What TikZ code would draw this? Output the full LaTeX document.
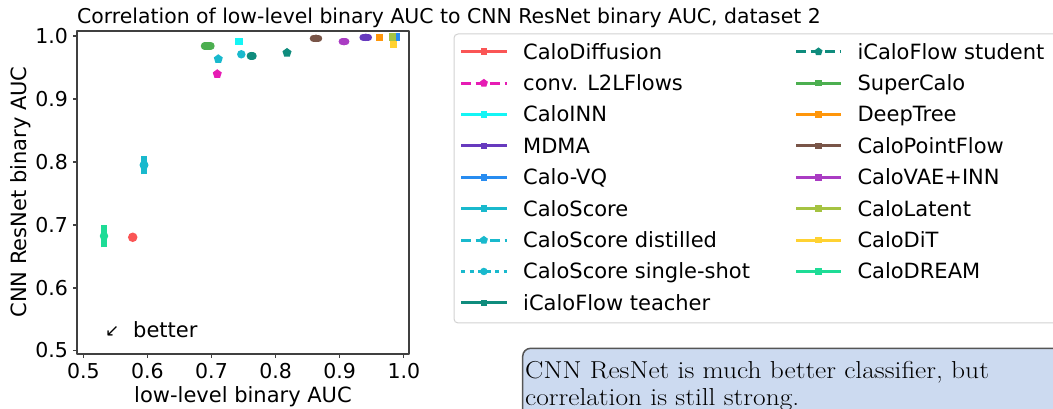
\documentclass[tikz,border=0pt]{standalone}
\usepackage{fontspec}
\newfontfamily\plotfont{DejaVu Sans}
\usetikzlibrary{shapes.geometric}

% Colours of the generators
\definecolor{cdiffusion}{RGB}{250,85,85}
\definecolor{cltwol}{RGB}{230,28,180}
\definecolor{cinn}{RGB}{20,245,245}
\definecolor{cmdma}{RGB}{103,58,190}
\definecolor{cvq}{RGB}{40,140,240}
\definecolor{cscore}{RGB}{25,185,205}
\definecolor{cicalo}{RGB}{15,140,125}
\definecolor{csuper}{RGB}{76,175,80}
\definecolor{cdeeptree}{RGB}{255,150,10}
\definecolor{cpointflow}{RGB}{121,85,72}
\definecolor{cvaeinn}{RGB}{170,60,195}
\definecolor{clatent}{RGB}{165,195,65}
\definecolor{cdit}{RGB}{255,210,50}
\definecolor{cdream}{RGB}{30,220,150}
\definecolor{notefill}{RGB}{204,218,240}
\definecolor{noteline}{RGB}{85,85,85}
\definecolor{legframe}{RGB}{210,210,210}

\begin{document}
\begin{tikzpicture}[x=1pt,y=1pt,line join=round,
    every node/.style={font=\plotfont\fontsize{21}{25}\selectfont, inner sep=0pt, text=black},
    ticklabel/.style={font=\plotfont\fontsize{20.5}{24}\selectfont},
    notetext/.style={anchor=base west, transform shape, font=\rmfamily\fontsize{24.5}{27}\selectfont},
    axisframe/.style={draw=black!75, line width=1.1pt},
    tickmark/.style={draw=black!75, line width=1.1pt},
    legline/.style={line width=3pt},
    legtext/.style={anchor=base west, xshift=15pt, yshift=-7.5pt},
    legsq/.style={rectangle, fill=#1, minimum size=6.5pt},
    legdot/.style={circle, fill=#1, minimum size=7.5pt},
    legpent/.style={regular polygon, regular polygon sides=5, fill=#1, minimum size=8.5pt},
    sqmark/.style={rectangle, fill=#1, minimum size=7.5pt},
    dotmark/.style={circle, fill=#1, minimum size=8.5pt},
    pentmark/.style={regular polygon, regular polygon sides=5, fill=#1, minimum size=9.5pt},
    errbar/.style={draw=#1, line width=5.5pt},
    pill/.style={draw=#1, line width=7.5pt, line cap=round},
    ]

    % Page size
    \useasboundingbox (0,0) rectangle (1053,409);
    \clip (0,0) rectangle (1053,409);

    % Title
    \node[anchor=base west, font=\plotfont\fontsize{20.4}{24}\selectfont] (title) at (77,385) {Correlation of low-level binary AUC to CNN ResNet binary AUC, dataset 2};

    % Axes and ticks
    \draw[axisframe] (77,55) rectangle (409,378);
    \draw[tickmark] (77,373) -- (73,373) node[ticklabel, anchor=east, xshift=-4.5pt] (yt10) {1.0};
    \draw[tickmark] (77,310) -- (73,310) node[ticklabel, anchor=east, xshift=-4.5pt] (yt09) {0.9};
    \draw[tickmark] (77,247) -- (73,247) node[ticklabel, anchor=east, xshift=-4.5pt] (yt08) {0.8};
    \draw[tickmark] (77,184) -- (73,184) node[ticklabel, anchor=east, xshift=-4.5pt] (yt07) {0.7};
    \draw[tickmark] (77,121) -- (73,121) node[ticklabel, anchor=east, xshift=-4.5pt] (yt06) {0.6};
    \draw[tickmark] (77,58.5) -- (73,58.5) node[ticklabel, anchor=east, xshift=-4.5pt] (yt05) {0.5};
    \draw[tickmark] (83.3,55) -- (83.3,51) node[ticklabel, anchor=north, yshift=-5pt] (xt05) {0.5};
    \draw[tickmark] (147.4,55) -- (147.4,51) node[ticklabel, anchor=north, yshift=-5pt] (xt06) {0.6};
    \draw[tickmark] (211.5,55) -- (211.5,51) node[ticklabel, anchor=north, yshift=-5pt] (xt07) {0.7};
    \draw[tickmark] (275.6,55) -- (275.6,51) node[ticklabel, anchor=north, yshift=-5pt] (xt08) {0.8};
    \draw[tickmark] (339.7,55) -- (339.7,51) node[ticklabel, anchor=north, yshift=-5pt] (xt09) {0.9};
    \draw[tickmark] (403.8,55) -- (403.8,51) node[ticklabel, anchor=north, yshift=-5pt] (xt10) {1.0};

    % Axis labels
    \node[anchor=base] (xlab) at (243,6) {low-level binary AUC};
    \node[anchor=base, rotate=90] (ylab) at (27,217) {CNN ResNet binary AUC};

    % Hint towards the good corner
    \node[anchor=base west, font=\plotfont\fontsize{17}{20}\selectfont] (arrow) at (105,72) {↙};
    \node[anchor=base west] (better) at (133,71) {better};

    % Data points, in AUC units
    \begin{scope}[xshift=-237.2pt, yshift=-256.5pt, x=641pt, y=630pt]
        \draw[errbar=cdream] (0.5323,0.6637) -- (0.5323,0.6997);
        \node[dotmark=cdream] (pdream) at (0.5323,0.6817) {};
        \node[dotmark=cdiffusion, minimum size=9.5pt] (pdiff) at (0.5771,0.6797) {};
        \draw[errbar=cscore] (0.5947,0.7794) -- (0.5947,0.8094);
        \node[dotmark=cscore, minimum size=9pt] (pshot) at (0.5947,0.7944) {};
        \draw[pill=csuper] (0.6891,0.9833) -- (0.6991,0.9833);
        \node[dotmark=csuper, minimum size=7.5pt] (psuper) at (0.6941,0.9833) {};
        \node[pentmark=cltwol] (pltwol) at (0.7090,0.9389) {};
        \node[pentmark=cscore] (pdist) at (0.7106,0.9627) {};
        \node[sqmark=cinn] (pinn) at (0.7429,0.9908) {};
        \node[dotmark=cscore] (pscore) at (0.7465,0.9702) {};
        \draw[pill=cicalo] (0.7607,0.9675) -- (0.7647,0.9675);
        \node[dotmark=cicalo, minimum size=8pt] (pteach) at (0.7627,0.9675) {};
        \node[pentmark=cicalo] (pstud) at (0.8178,0.9727) {};
        \draw[pill=cpointflow] (0.8591,0.9956) -- (0.8669,0.9956);
        \node[dotmark=cpointflow, minimum size=7.5pt] (ppoint) at (0.8630,0.9956) {};
        \draw[pill=cvaeinn] (0.9041,0.9902) -- (0.9093,0.9902);
        \node[dotmark=cvaeinn, minimum size=7.5pt] (pvae) at (0.9067,0.9902) {};
        \draw[pill=cmdma] (0.9366,0.9971) -- (0.9446,0.9971);
        \node[dotmark=cmdma, minimum size=7.5pt] (pmdma) at (0.9406,0.9971) {};
        \node[sqmark=cdeeptree] (pdeep) at (0.9618,0.9965) {};
        \node[sqmark=cvq] (pvq) at (0.9889,0.9980) {};
        \node[sqmark=clatent] (platent) at (0.9821,0.9980) {};
        \node[sqmark=cdit] (pdit) at (0.9836,0.9854) {};
    \end{scope}

    % Legend
    \draw[draw=legframe, fill=white, line width=1pt, rounded corners=4pt] (454,86) rectangle (1070,375);
    % first column
    \draw[legline, cdiffusion] (461,357.3) -- node[legsq=cdiffusion] (mdiff) {} (506.7,357.3) node[legtext] (ldiff) {CaloDiffusion};
    \draw[legline, cltwol, dash pattern=on 10pt off 4.5pt] (461,325.9) -- node[legpent=cltwol] (mltwol) {} (506.7,325.9) node[legtext] (lltwol) {conv. L2LFlows};
    \draw[legline, cinn] (461,294.5) -- node[legsq=cinn] (minn) {} (506.7,294.5) node[legtext] (linn) {CaloINN};
    \draw[legline, cmdma] (461,263.1) -- node[legsq=cmdma] (mmdma) {} (506.7,263.1) node[legtext] (lmdma) {MDMA};
    \draw[legline, cvq] (461,231.7) -- node[legsq=cvq] (mvq) {} (506.7,231.7) node[legtext] (lvq) {Calo-VQ};
    \draw[legline, cscore] (461,200.3) -- node[legsq=cscore] (mscore) {} (506.7,200.3) node[legtext] (lscore) {CaloScore};
    \draw[legline, cscore, dash pattern=on 10pt off 4.5pt] (461,168.9) -- node[legpent=cscore] (mdist) {} (506.7,168.9) node[legtext] (ldist) {CaloScore distilled};
    \draw[legline, cscore, dash pattern=on 4pt off 4.5pt] (461,137.5) -- node[legdot=cscore] (mshot) {} (506.7,137.5) node[legtext] (lshot) {CaloScore single-shot};
    \draw[legline, cicalo] (461,106.1) -- node[legsq=cicalo] (mteach) {} (506.7,106.1) node[legtext] (lteach) {iCaloFlow teacher};
    % second column
    \draw[legline, cicalo, dash pattern=on 10pt off 4.5pt] (796,357.3) -- node[legpent=cicalo] (mstud) {} (841,357.3) node[legtext] (lstud) {iCaloFlow student};
    \draw[legline, csuper] (796,325.9) -- node[legsq=csuper] (msuper) {} (841,325.9) node[legtext] (lsuper) {SuperCalo};
    \draw[legline, cdeeptree] (796,294.5) -- node[legsq=cdeeptree] (mdeep) {} (841,294.5) node[legtext] (ldeep) {DeepTree};
    \draw[legline, cpointflow] (796,263.1) -- node[legsq=cpointflow] (mpoint) {} (841,263.1) node[legtext] (lpoint) {CaloPointFlow};
    \draw[legline, cvaeinn] (796,231.7) -- node[legsq=cvaeinn] (mvae) {} (841,231.7) node[legtext] (lvae) {CaloVAE+INN};
    \draw[legline, clatent] (796,200.3) -- node[legsq=clatent] (mlatent) {} (841,200.3) node[legtext] (llatent) {CaloLatent};
    \draw[legline, cdit] (796,168.9) -- node[legsq=cdit] (mdit) {} (841,168.9) node[legtext] (ldit) {CaloDiT};
    \draw[legline, cdream] (796,137.5) -- node[legsq=cdream] (mdream) {} (841,137.5) node[legtext] (ldream) {CaloDREAM};

    % Comment box
    \draw[fill=notefill, draw=noteline, line width=1.5pt, rounded corners=8pt] (522.7,-20) rectangle (1080,60.7);
    \begin{scope}[shift={(525,30.7)}, xscale=1.12]
        \node[notetext] (note1) at (0,0) {CNN ResNet is much better classifier, but};
        \node[notetext] (note2) at (0,-27.2) {correlation is still strong.};
    \end{scope}

\end{tikzpicture}
\end{document}
